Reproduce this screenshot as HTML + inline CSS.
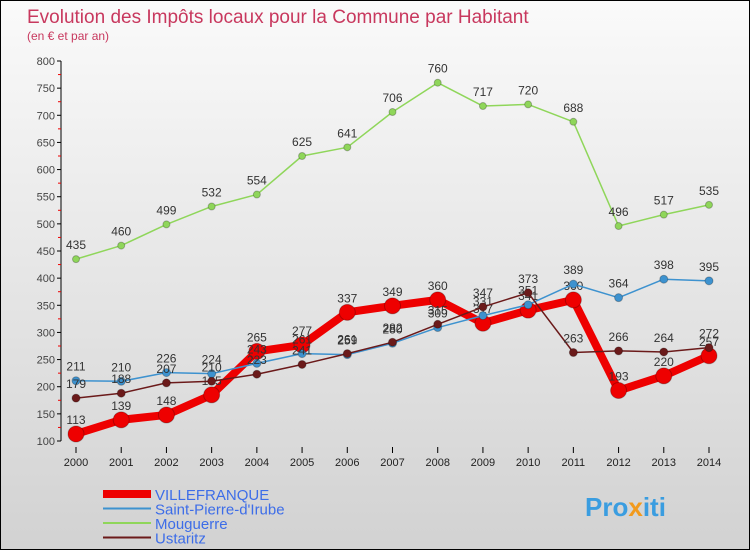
<!DOCTYPE html>
<html><head><meta charset="utf-8"><style>
body{margin:0;}
#wrap{width:748px;height:548px;border:1px solid #000;background:linear-gradient(#fafafa,#d2d2d2);position:relative;overflow:hidden;font-family:"Liberation Sans",sans-serif;}
svg text{font-family:"Liberation Sans",sans-serif;}
</style></head><body>
<div id="wrap">
<svg id="svg" width="750" height="550">
<text x="26" y="22" font-size="19" fill="#c8385e">Evolution des Impôts locaux pour la Commune par Habitant</text>
<text x="26" y="39" font-size="12" fill="#c8385e">(en € et par an)</text>
<g id="axes"></g><g id="series"></g><g id="legend"></g>
<text x="584" y="515" font-size="26" font-weight="bold" fill="#3a9de0">Pro<tspan fill="#f29a1c">x</tspan>iti</text>
</svg>
</div>
<script>
const years=[2000,2001,2002,2003,2004,2005,2006,2007,2008,2009,2010,2011,2012,2013,2014];
const yTicks=[100,150,200,250,300,350,400,450,500,550,600,650,700,750,800];
const villefranque=[113,139,148,185,265,277,337,349,360,317,341,360,193,220,257];
const saintPierre=[211,210,226,224,243,261,259,280,309,331,351,389,364,398,395];
const mouguerre=[435,460,499,532,554,625,641,706,760,717,720,688,496,517,535];
const ustaritz=[179,188,207,210,223,241,261,282,315,347,373,263,266,264,272];
const NS="http://www.w3.org/2000/svg";
const X=i=>75+i*(633/14);
const Y=v=>440-(v-100)*(380/700);
function mk(t,a,p){const e=document.createElementNS(NS,t);for(const k in a)e.setAttribute(k,a[k]);p.appendChild(e);return e;}
const ax=document.getElementById('axes');
const yl=mk('line',{x1:60,y1:60,x2:60,y2:440,stroke:'#000'},ax);


yTicks.forEach(v=>{
 mk('line',{x1:56,y1:Y(v),x2:60,y2:Y(v),stroke:'#000'},ax);
 if(v<800)mk('line',{x1:57,y1:Y(v+25),x2:60,y2:Y(v+25),stroke:'#e00'},ax);
 const t=mk('text',{x:54,y:Y(v)+4,'font-size':11,'text-anchor':'end',fill:'#444'},ax);t.textContent=v;
 
 
});
years.forEach((y,i)=>{
 mk('line',{x1:X(i),y1:446,x2:X(i),y2:452,stroke:'#000'},ax);
 const t=mk('text',{x:X(i),y:465,'font-size':11,'text-anchor':'middle',fill:'#222'},ax);t.textContent=y;
 
 
});
const sg=document.getElementById('series');
function series(d,col,w,r,name){
 const g=mk('g',{},sg);
 
 
 mk('polyline',{points:d.map((v,i)=>X(i)+','+Y(v)).join(' '),fill:'none',stroke:col,'stroke-width':w,'stroke-linejoin':'round'},g);
 d.forEach((v,i)=>{
  const c=mk('circle',{cx:X(i),cy:Y(v),r:r,fill:col,stroke:'rgba(0,0,0,0.25)'},g);
  
  
  const t=mk('text',{x:X(i),y:Y(v)-10,'font-size':12,'text-anchor':'middle',fill:'#333'},g);t.textContent=v;
  
  
 });
}
series(mouguerre,'#8fd65a',1.5,3.5,'mouguerre-series');
series(villefranque,'#ee0000',8,8,'villefranque-series');
series(saintPierre,'#3d92cf',1.5,4,'saint-pierre-series');
series(ustaritz,'#6b1a1a',1.5,4,'ustaritz-series');
const lg=document.getElementById('legend');
[['VILLEFRANQUE','#ee0000',8],['Saint-Pierre-d\'Irube','#3d92cf',2],['Mouguerre','#8fd65a',2],['Ustaritz','#6b1a1a',2]].forEach((s,i)=>{
 const y=493+i*14.5;
 const l=mk('line',{x1:102,y1:y,x2:150,y2:y,stroke:s[1],'stroke-width':s[2]},lg);
 
 
 const t=mk('text',{x:154,y:y+6,'font-size':15,fill:'#3d6de8'},lg);t.textContent=s[0];
 
 
});
</script>
</body></html>
